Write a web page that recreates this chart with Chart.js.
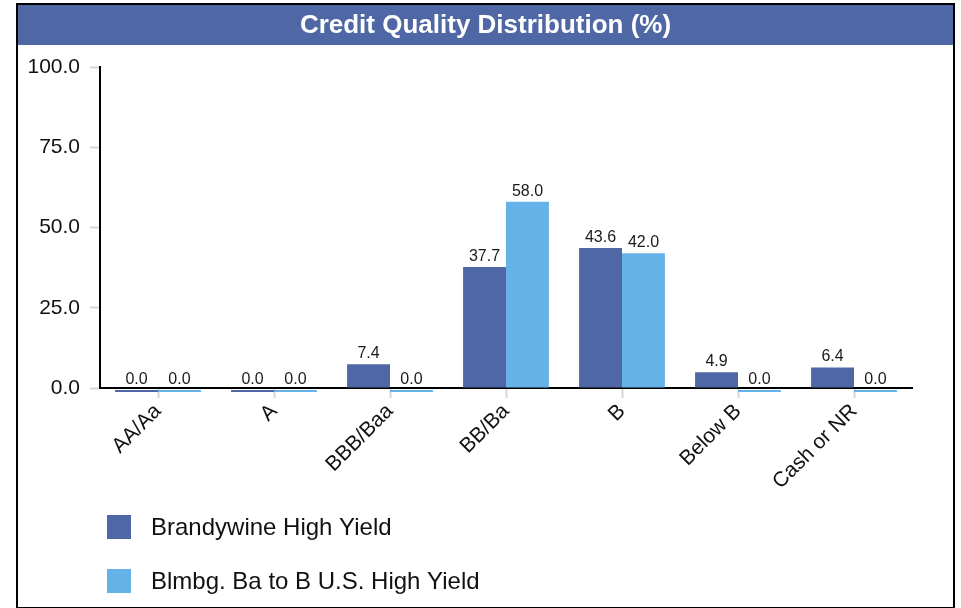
<!DOCTYPE html>
<html>
<head>
<meta charset="utf-8">
<script src="https://cdn.jsdelivr.net/npm/chart.js@4"></script>
<style>
  body { margin: 0; background: #fff; }
  .panel { position: absolute; left: 16px; top: 3px; width: 939px; height: 606px; border: 2px solid #000; box-sizing: border-box; }
  canvas { display: block; }
</style>
</head>
<body>
<div class="panel"><canvas id="quality" width="935" height="602"></canvas></div>
<script>
var categories = ['AA/Aa', 'A', 'BBB/Baa', 'BB/Ba', 'B', 'Below B', 'Cash or NR'];
var fundValues = [0.0, 0.0, 7.4, 37.7, 43.6, 4.9, 6.4];
var indexValues = [0.0, 0.0, 0.0, 58.0, 42.0, 0.0, 0.0];
var yTicks = [0, 25, 50, 75, 100];
var seriesNames = ['Brandywine High Yield', 'Blmbg. Ba to B U.S. High Yield'];
var chartTitle = 'Credit Quality Distribution (%)';

var darkBlue = '#4f67a5';
var lightBlue = '#65b2e9';
var font = '"Liberation Sans", Arial, sans-serif';

// blue header band with the title on it
var titleBand = {
  id: 'titleBand',
  beforeDraw: function (chart) {
    var c = chart.ctx;
    c.save();
    c.fillStyle = darkBlue;
    c.fillRect(0, 0, chart.width, 40);
    c.font = 'bold 26px ' + font;
    c.fillStyle = '#fff';
    c.textAlign = 'center';
    c.textBaseline = 'middle';
    c.fillText(chartTitle, chart.width / 2, 21);
    c.restore();
  }
};

// zero values are shown as a thin strip hanging just under the axis line
var zeroStrips = {
  id: 'zeroStrips',
  beforeDatasetsDraw: function (chart) {
    var zero = chart.scales.y.getPixelForValue(0);
    chart.data.datasets.forEach(function (ds, i) {
      chart.getDatasetMeta(i).data.forEach(function (bar, j) {
        if (ds.data[j] === 0) {
          bar.y = zero + 2;
          bar.base = zero + 4;
        }
      });
    });
  }
};

// value printed above each bar
var barValues = {
  id: 'barValues',
  afterDatasetsDraw: function (chart) {
    var c = chart.ctx;
    c.save();
    c.font = '16px ' + font;
    c.fillStyle = '#1a1a1a';
    c.textAlign = 'center';
    c.textBaseline = 'alphabetic';
    chart.data.datasets.forEach(function (ds, i) {
      chart.getDatasetMeta(i).data.forEach(function (bar, j) {
        c.fillText(ds.data[j].toFixed(1), bar.x, Math.min(bar.y, bar.base) - 6);
      });
    });
    c.restore();
  }
};

// legend stacked one series per row under the axis labels
var stackedLegend = {
  id: 'stackedLegend',
  afterDraw: function (chart) {
    var c = chart.ctx;
    c.save();
    c.font = '24px ' + font;
    c.textBaseline = 'middle';
    chart.data.datasets.forEach(function (ds, i) {
      var top = 510 + i * 54;
      c.fillStyle = ds.backgroundColor;
      c.fillRect(89, top, 24, 24);
      c.fillStyle = '#111';
      c.fillText(ds.label, 133, top + 13);
    });
    c.restore();
  }
};

new Chart(document.getElementById('quality'), {
  type: 'bar',
  data: {
    labels: categories,
    datasets: [
      { label: seriesNames[0], data: fundValues, backgroundColor: darkBlue, clip: false },
      { label: seriesNames[1], data: indexValues, backgroundColor: lightBlue, clip: false }
    ]
  },
  options: {
    responsive: false,
    animation: false,
    categoryPercentage: 0.74,
    barPercentage: 1.0,
    layout: { padding: { left: 10, right: 41, top: 62, bottom: 119 } },
    plugins: {
      legend: { display: false },
      tooltip: { enabled: false }
    },
    scales: {
      x: {
        z: 1,
        grid: { drawOnChartArea: false, offset: false, tickLength: 10, tickColor: '#d6d6d6', tickWidth: 2 },
        border: { color: '#000', width: 2 },
        ticks: { color: '#111', font: { family: font, size: 21 }, minRotation: 45, maxRotation: 45, padding: 1 },
        afterFit: function (s) { s.height = 100; }
      },
      y: {
        min: 0,
        max: 100,
        afterBuildTicks: function (s) {
          s.ticks = yTicks.map(function (v) { return { value: v }; });
        },
        grid: { drawOnChartArea: false, tickLength: 10, tickColor: '#d6d6d6', tickWidth: 2 },
        border: { color: '#000', width: 2 },
        ticks: {
          color: '#111',
          font: { family: font, size: 21 },
          padding: 10,
          callback: function (v) { return v.toFixed(1); }
        },
        afterFit: function (s) { s.width = 72; }
      }
    }
  },
  plugins: [titleBand, zeroStrips, barValues, stackedLegend]
});
</script>
</body>
</html>
